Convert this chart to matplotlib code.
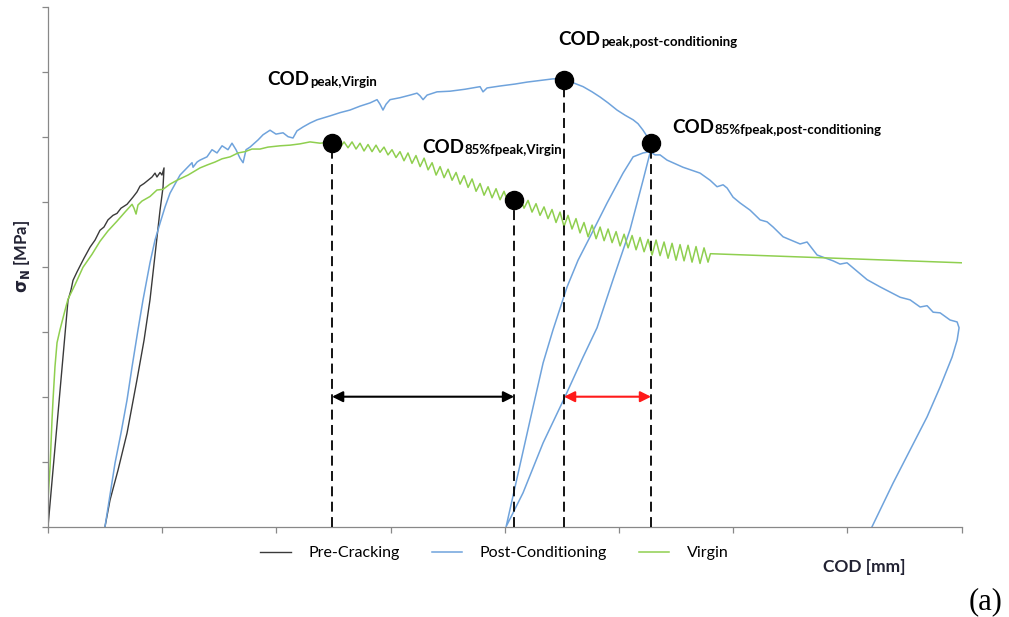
import matplotlib
matplotlib.use("Agg")
import matplotlib.pyplot as plt
import numpy as np

plt.rcParams["font.family"] = ["Lato", "DejaVu Sans"]

# ---- data (COD in mm, sigma_N in MPa) ----
pre_x = [0, 0.088, 0.175, 0.201, 0.219, 0.254, 0.280, 0.315, 0.368, 0.412, 0.455, 0.490, 0.525,
         0.569, 0.604, 0.639, 0.692, 0.744, 0.779, 0.806, 0.841, 0.876, 0.911, 0.937, 0.954,
         0.981, 0.998, 1.016, 1.007, 0.981, 0.937, 0.893, 0.841, 0.779, 0.692, 0.613, 0.543, 0.499]
pre_y = [0, 1.75, 3.48, 3.64, 3.79, 3.92, 4.01, 4.13, 4.30, 4.41, 4.56, 4.61, 4.72,
         4.79, 4.82, 4.90, 4.96, 5.07, 5.15, 5.24, 5.28, 5.33, 5.38, 5.44, 5.38,
         5.45, 5.41, 5.52, 5.22, 4.87, 4.18, 3.49, 2.87, 2.26, 1.44, 0.87, 0.41, 0]

post_x = [0.499, 0.543, 0.587, 0.639, 0.692, 0.736, 0.788, 0.832, 0.893, 0.937, 0.981, 1.025,
          1.068, 1.112, 1.156, 1.217, 1.261, 1.270, 1.305, 1.331, 1.392, 1.436, 1.480, 1.524,
          1.576, 1.611, 1.646, 1.681, 1.708, 1.734, 1.769, 1.839, 1.883, 1.944, 1.996, 2.058,
          2.102, 2.145, 2.180, 2.233, 2.294, 2.356, 2.469, 2.557, 2.644, 2.732, 2.820, 2.881,
          2.907, 2.933, 2.960, 2.995, 3.082, 3.170, 3.231, 3.257, 3.284, 3.319, 3.406, 3.520,
          3.651, 3.783, 3.809, 3.844, 3.958, 4.089, 4.194, 4.335, 4.422, 4.510, 4.597, 4.685,
          4.764, 4.834, 4.904, 4.982, 5.053, 5.123, 5.166, 5.210, 5.254, 5.280,
          # unloading
          5.271, 5.210, 5.096, 4.947, 4.807, 4.685, 4.527, 4.335, 4.159, 4.011,
          # reloading
          4.089, 4.221, 4.335, 4.422, 4.545, 4.641, 4.746, 4.895, 5.035, 5.123, 5.210, 5.271,
          5.315, 5.359, 5.420, 5.560, 5.709, 5.797, 5.858, 5.911, 5.946, 5.998, 6.060, 6.147,
          6.235, 6.296, 6.349, 6.436, 6.585, 6.646, 6.734, 6.874, 6.935, 6.996, 7.172, 7.285,
          7.461, 7.548, 7.636, 7.697, 7.750, 7.811, 7.898, 7.960, 7.977,
          # final unloading
          7.960, 7.916, 7.811, 7.697, 7.548, 7.399, 7.215]
post_y = [0, 0.49, 0.98, 1.44, 1.95, 2.46, 3.03, 3.49, 4.06, 4.41, 4.67, 4.92,
          5.13, 5.27, 5.41, 5.52, 5.60, 5.53, 5.61, 5.64, 5.69, 5.80, 5.75, 5.86,
          5.80, 5.90, 5.80, 5.67, 5.60, 5.80, 5.84, 5.95, 6.03, 6.10, 6.04, 6.06,
          6.00, 5.98, 6.09, 6.15, 6.21, 6.26, 6.32, 6.37, 6.41, 6.47, 6.52, 6.57,
          6.50, 6.41, 6.50, 6.57, 6.60, 6.64, 6.67, 6.63, 6.57, 6.64, 6.69, 6.70,
          6.73, 6.77, 6.69, 6.75, 6.78, 6.81, 6.84, 6.87, 6.89, 6.89, 6.83, 6.77,
          6.69, 6.61, 6.52, 6.41, 6.33, 6.26, 6.20, 6.10, 5.98, 5.87,
          5.75, 5.33, 4.57, 3.80, 3.06, 2.61, 2.00, 1.29, 0.52, 0,
          0.61, 1.64, 2.52, 3.03, 3.69, 4.10, 4.46, 4.98, 5.44, 5.69, 5.75, 5.77,
          5.72, 5.72, 5.64, 5.53, 5.44, 5.33, 5.23, 5.26, 5.21, 5.07, 4.98, 4.87,
          4.72, 4.69, 4.61, 4.46, 4.35, 4.38, 4.18, 4.09, 4.04, 4.06, 3.80, 3.69,
          3.53, 3.49, 3.38, 3.40, 3.30, 3.29, 3.18, 3.15, 3.06,
          2.87, 2.61, 2.15, 1.69, 1.18, 0.67, 0]

# virgin: rising branch up to the peak
virgin_rise_x = [0, 0, 0.018, 0.035, 0.044, 0.061, 0.079, 0.105, 0.149, 0.175, 0.236, 0.306,
                 0.385, 0.455, 0.525, 0.604, 0.674, 0.736, 0.753, 0.771, 0.788, 0.823, 0.893,
                 0.954, 1.007, 1.068, 1.130, 1.226, 1.331, 1.401, 1.462, 1.524, 1.594, 1.664,
                 1.725, 1.786, 1.856, 1.926, 2.032, 2.119, 2.207, 2.294, 2.382, 2.487]
virgin_rise_y = [0, 0.41, 0.92, 1.64, 1.95, 2.46, 2.83, 3.03, 3.33, 3.50, 3.72, 3.99,
                 4.19, 4.39, 4.55, 4.70, 4.84, 4.96, 4.90, 4.81, 4.95, 5.01, 5.08,
                 5.18, 5.19, 5.27, 5.33, 5.41, 5.52, 5.57, 5.61, 5.66, 5.69, 5.75,
                 5.77, 5.81, 5.81, 5.84, 5.86, 5.87, 5.89, 5.92, 5.90, 5.92]
# virgin: noisy softening branch
virgin_soft_x = [2.522, 2.557, 2.592, 2.627, 2.662, 2.697, 2.732, 2.767, 2.802, 2.837,
                 2.872, 2.907, 2.942, 2.977, 3.012, 3.047, 3.082, 3.117, 3.152, 3.187,
                 3.222, 3.258, 3.293, 3.328, 3.363, 3.398, 3.433, 3.468, 3.503, 3.538,
                 3.573, 3.608, 3.643, 3.678, 3.713, 3.748, 3.783, 3.818, 3.853, 3.888,
                 3.923, 3.958, 3.993, 4.028, 4.063, 4.098, 4.133, 4.168, 4.203, 4.238,
                 4.273, 4.308, 4.343, 4.378, 4.413, 4.448, 4.483, 4.518, 4.553, 4.588,
                 4.623, 4.658, 4.693, 4.729, 4.764, 4.799, 4.834, 4.869, 4.904, 4.939,
                 4.974, 5.009, 5.044, 5.079, 5.114, 5.149, 5.184, 5.219, 5.254, 5.289,
                 5.324, 5.359, 5.394, 5.429, 5.464, 5.499, 5.534, 5.569, 5.604, 5.639,
                 5.674, 5.709, 5.744, 5.779, 5.80, 8.0]
virgin_soft_y = [5.95, 5.83, 5.92, 5.83, 5.92, 5.81, 5.90, 5.78, 5.88, 5.77,
                 5.87, 5.76, 5.84, 5.72, 5.80, 5.68, 5.77, 5.63, 5.75, 5.59,
                 5.71, 5.54, 5.67, 5.49, 5.60, 5.41, 5.54, 5.37, 5.50, 5.33,
                 5.45, 5.27, 5.40, 5.22, 5.35, 5.16, 5.28, 5.10, 5.23, 5.06,
                 5.20, 5.03, 5.16, 4.98, 5.12, 4.95, 5.08, 4.90, 5.02, 4.84,
                 4.97, 4.79, 4.92, 4.74, 4.88, 4.68, 4.84, 4.62, 4.79, 4.58,
                 4.74, 4.52, 4.68, 4.46, 4.64, 4.43, 4.61, 4.40, 4.58, 4.37,
                 4.54, 4.32, 4.50, 4.29, 4.48, 4.26, 4.45, 4.23, 4.42, 4.18,
                 4.41, 4.17, 4.38, 4.13, 4.36, 4.10, 4.34, 4.09, 4.33, 4.07,
                 4.31, 4.05, 4.29, 4.07, 4.20, 4.06]

# characteristic points: (COD, sigma)
pt_names = ["peak,Virgin", "85%fpeak,Virgin", "peak,post-conditioning", "85%fpeak,post-conditioning"]
pt_x = [2.487, 4.081, 4.518, 5.280]
pt_y = [5.903, 5.026, 6.872, 5.903]
# label anchor (left, baseline) for each point
lab_x = [1.918, 3.275, 4.466, 5.464]
lab_y = [6.795, 5.749, 7.41, 6.057]
arrow_y = 2.0

c_pre = "#3a3a3a"
c_post = "#6fa3dc"
c_virgin = "#8fcf4f"

fig = plt.figure(figsize=(10.09, 6.17), dpi=100)
ax = fig.add_axes([48 / 1009, 90.3 / 617, 913.7 / 1009, 520 / 617])

ax.plot(pre_x, pre_y, color=c_pre, lw=1.0, label="Pre-Cracking")
ax.plot(post_x, post_y, color=c_post, lw=1.1, label="Post-Conditioning")
vx = virgin_rise_x + virgin_soft_x
vy = virgin_rise_y + virgin_soft_y
ax.plot(vx, vy, color=c_virgin, lw=1.1, label="Virgin")

# dashed drop lines + markers
for x, y in zip(pt_x, pt_y):
    ax.plot([x, x], [0, y], color="black", lw=1.3, dashes=(5.5, 3), zorder=4)
ax.plot(pt_x, pt_y, "o", color="black", ms=13, zorder=5)

# labels COD_sub
for name, x, y in zip(pt_names, lab_x, lab_y):
    t = ax.text(x, y, "COD", fontsize=13.5, fontweight="bold", va="baseline", ha="left")
    ax.annotate(name, xy=(1, 0), xycoords=t, xytext=(0.5, 0), textcoords="offset points",
                fontsize=9.5, fontweight="bold", va="bottom", ha="left")

# double arrows
ax.annotate("", xy=(pt_x[1], arrow_y), xytext=(pt_x[0], arrow_y),
            arrowprops=dict(arrowstyle="<|-|>", color="black", lw=1.5,
                            mutation_scale=16, shrinkA=0, shrinkB=0))
ax.annotate("", xy=(pt_x[3], arrow_y), xytext=(pt_x[2], arrow_y),
            arrowprops=dict(arrowstyle="<|-|>", color="#ff1a1a", lw=1.5,
                            mutation_scale=16, shrinkA=0, shrinkB=0))

ax.set_xlim(0, 8)
ax.set_ylim(0, 8)
ax.set_xticks(np.arange(0, 9, 1))
ax.set_yticks(np.arange(0, 9, 1))
ax.tick_params(direction="out", length=4.5, width=0.9, color="#888888",
               labelbottom=False, labelleft=False)
for s in ["top", "right"]:
    ax.spines[s].set_visible(False)
for s in ["left", "bottom"]:
    ax.spines[s].set_color("#888888")
    ax.spines[s].set_linewidth(0.9)

fig.text(22 / 1009, (617 - 257) / 617, r"$\mathbf{\sigma_N}$ [MPa]", rotation=90,
         fontsize=12, fontweight="bold", color="#222233", ha="center", va="center")
fig.text(864 / 1009, (617 - 567) / 617, "COD [mm]", fontsize=12.5, fontweight="bold",
         color="#222233", ha="center", va="center")
fig.text(969 / 1009, (617 - 609) / 617, "(a)", fontsize=22, family="Liberation Serif",
         ha="left", va="baseline")

fig.legend(loc="center", bbox_to_anchor=(494.5 / 1009, (617 - 553) / 617), ncol=3,
           frameon=False, fontsize=11.5, handlelength=1.9, handletextpad=1.1,
           columnspacing=2.0, borderpad=0)

fig.savefig("out.png", dpi=100)
